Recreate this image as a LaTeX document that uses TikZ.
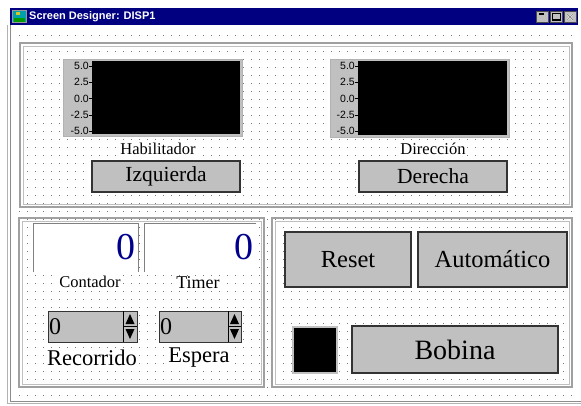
\documentclass[tikz,border=0pt]{standalone}
\usepackage{fontspec}
\setmainfont{Liberation Serif}
\setsansfont{Liberation Sans}
\newfontfamily\timesw{Liberation Serif}
\newfontfamily\arialw{Liberation Sans}
\definecolor{btngray}{RGB}{192,192,192}
\definecolor{titleblue}{RGB}{0,0,128}
\definecolor{dotgray}{RGB}{120,120,120}
\definecolor{framegray}{RGB}{160,160,160}
\definecolor{navydigit}{RGB}{0,0,140}
\tikzset{
  fs/.style={font=\timesw\fontsize{#1}{#1}\selectfont},
  pushbtn/.style={draw=black!80, fill=btngray, line width=1.1pt, inner sep=0pt},
  panelframe/.style={draw=framegray, line width=1.4pt},
  panelinner/.style={draw=black!25, line width=0.6pt},
  lbl/.style={fill=white, inner sep=1pt},
  ticklbl/.style={font=\arialw\fontsize{10.5}{10.5}\selectfont, anchor=east, inner sep=0.5pt},
  tickmark/.style={draw=black, line width=0.5pt},
  spinbox/.style={draw=black!80, fill=btngray, line width=1pt},
}
\begin{document}
\begin{tikzpicture}[x=1pt,y=-1pt]
\useasboundingbox (0,0) rectangle (581,406);
\fill[white] (0,0) rectangle (581,406);
% window frame
\draw[black!30, line width=1pt] (7.5,25) -- (7.5,403.5) -- (581,403.5);
\draw[black!45, line width=0.8pt] (10,25) -- (10,401.5) -- (581,401.5);
% title bar
\fill[titleblue] (10,8) rectangle (578,25);
\node[draw=black!40, fill={rgb,255:red,0;green,160;blue,170}, minimum width=14pt, minimum height=12pt, inner sep=0pt] (icon) at (19.5,16.5) {};
\fill[green!60!black] (14,18) rectangle (25,22);
\fill[yellow!80!black] (16,12) rectangle (20,15);
\node[anchor=west, text=white, font=\arialw\bfseries\fontsize{11}{11}\selectfont, inner sep=0pt] (title) at (29,16.5) {Screen Designer: DISP1};
\node[draw=black!70, fill=btngray, minimum width=12pt, minimum height=11pt, inner sep=0pt, line width=0.6pt] (minb) at (542,17) {};
\draw[black, line width=1.6pt] ([xshift=-3pt,yshift=3pt]minb.center) -- ([xshift=2pt,yshift=3pt]minb.center);
\node[draw=black!70, fill=btngray, minimum width=12pt, minimum height=11pt, inner sep=0pt, line width=0.6pt] (maxb) at (556,17) {};
\draw[black, line width=0.7pt] ([xshift=-4pt,yshift=-3.5pt]maxb.center) rectangle ([xshift=4pt,yshift=3.5pt]maxb.center);
\draw[black, line width=1.4pt] ([xshift=-4pt,yshift=-3.2pt]maxb.center) -- ([xshift=4pt,yshift=-3.2pt]maxb.center);
\node[draw=black!70, fill=btngray, minimum width=12pt, minimum height=11pt, inner sep=0pt, line width=0.6pt] (closeb) at (570,17) {};
\draw[white, line width=1.2pt] ([xshift=-3pt,yshift=-3pt]closeb.center) -- ([xshift=3pt,yshift=3pt]closeb.center);
\draw[white, line width=1.2pt] ([xshift=3pt,yshift=-3pt]closeb.center) -- ([xshift=-3pt,yshift=3pt]closeb.center);
\draw[black!50, line width=0.7pt] ([xshift=-3pt,yshift=-3pt]closeb.center) -- ([xshift=3pt,yshift=3pt]closeb.center);
\draw[black!50, line width=0.7pt] ([xshift=3pt,yshift=-3pt]closeb.center) -- ([xshift=-3pt,yshift=3pt]closeb.center);
% dot grid
\foreach \x in {19,27,...,571} {
  \foreach \y in {35,43,...,397} {
    \fill[dotgray] (\x,\y) rectangle +(1,1);
  }
}
% panels
\draw[panelframe] (20,43) rectangle (572,207);
\draw[panelinner] (23,46) rectangle (569,204);
\draw[panelframe] (19,218) rectangle (264,387);
\draw[panelinner] (22,221) rectangle (261,384);
\draw[panelframe] (272,218) rectangle (572,387);
\draw[panelinner] (275,221) rectangle (569,384);
% chart 1
\node[fill=btngray, draw=black!30, minimum width=179pt, minimum height=77pt, inner sep=0pt] (chartA) at (152.5,97.5) {};
\fill[black] (92,61) rectangle (240,134);
\foreach \v/\y in {5.0/66,2.5/82,0.0/98.5,-2.5/115,-5.0/131} {
  \node[ticklbl] at (89.5,\y) {\v};
  \draw[tickmark] (89,\y) -- (92,\y);
}
\node[lbl, fs=16.5] (hab) at (158,149) {Habilitador};
\node[pushbtn, minimum width=148pt, minimum height=31pt, fs=21.5] (izq) at (166,176.5) {Izquierda};
% chart 2
\node[fill=btngray, draw=black!30, minimum width=179pt, minimum height=78pt, inner sep=0pt] (chartB) at (419.5,98) {};
\fill[black] (358,61) rectangle (507,135);
\foreach \v/\y in {5.0/66,2.5/82,0.0/98.5,-2.5/115,-5.0/131} {
  \node[ticklbl] at (355.5,\y) {\v};
  \draw[tickmark] (355,\y) -- (358,\y);
}
\node[lbl, fs=16.5] (dir) at (433,149) {Dirección};
\node[pushbtn, minimum width=148pt, minimum height=31pt, fs=21.5] (der) at (433,176.5) {Derecha};
% numeric displays
\fill[white] (33,223) rectangle (138,272);
\draw[black!50, line width=0.8pt] (33,272) -- (33,223) -- (138,223) -- (138,272);
\node[anchor=east, text=navydigit, fs=38, inner sep=0pt] (cnt) at (136,247) {0};
\fill[white] (144,223) rectangle (256,272);
\draw[black!50, line width=0.8pt] (144,272) -- (144,223) -- (256,223);
\node[anchor=east, text=navydigit, fs=38, inner sep=0pt] (tmr) at (254,247) {0};
\node[lbl, fs=16.5] (contador) at (90,282) {Contador};
\node[lbl, fs=18] (timer) at (198,283) {Timer};
% spin boxes
\draw[spinbox] (48,311) rectangle (137,342);
\node[anchor=west, fs=24, inner sep=0pt] (sp1) at (49,326.5) {0};
\draw[black, line width=0.8pt] (123,311) -- (123,342);
\draw[black, line width=0.8pt] (123,326.5) -- (137,326.5);
\fill[black] (130,314) -- (125.5,324) -- (134.5,324) -- cycle;
\fill[black] (130,339) -- (125.5,329) -- (134.5,329) -- cycle;
\draw[spinbox] (159,311) rectangle (241,342);
\node[anchor=west, fs=24, inner sep=0pt] (sp2) at (160,326.5) {0};
\draw[black, line width=0.8pt] (228,311) -- (228,342);
\draw[black, line width=0.8pt] (228,326.5) -- (241,326.5);
\fill[black] (234.5,314) -- (230,324) -- (239,324) -- cycle;
\fill[black] (234.5,339) -- (230,329) -- (239,329) -- cycle;
\node[lbl, fs=22.5] (recorrido) at (92,358) {Recorrido};
\node[lbl, fs=22.5] (espera) at (199,358) {Espera};
% right bottom panel buttons
\node[pushbtn, minimum width=126pt, minimum height=55pt, fs=24.5] (reset) at (348,259.5) {Reset};
\node[pushbtn, minimum width=149pt, minimum height=55pt, fs=24.5] (auto) at (492.5,259.5) {Automático};
\node[fill=black, draw=btngray, line width=2pt, minimum width=44pt, minimum height=46pt, inner sep=0pt] (lamp) at (315,350) {};
\node[pushbtn, minimum width=206pt, minimum height=47pt, fs=28] (bobina) at (455,349.5) {Bobina};
\end{tikzpicture}
\end{document}
